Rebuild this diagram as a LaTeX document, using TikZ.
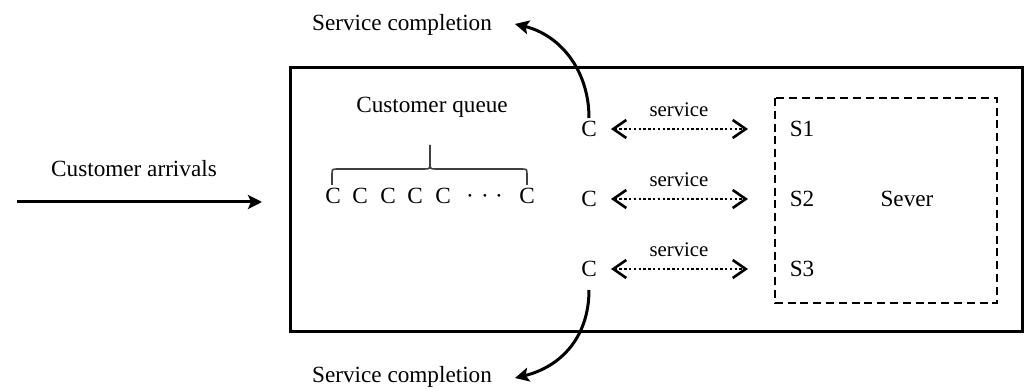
\documentclass[tikz,border=0pt]{standalone}
\usepackage{fontspec}
\setmainfont{Liberation Serif}
\usetikzlibrary{arrows.meta}
\begin{document}
\begin{tikzpicture}[x=0.5pt,y=-0.5pt,
  lbl/.style={inner sep=0pt, anchor=base, font=\fontsize{11.6}{13}\selectfont},
  small/.style={inner sep=0pt, anchor=base, font=\fontsize{10.4}{12}\selectfont},
  flow/.style={line width=1.5pt, -{Stealth[length=7pt,width=7pt,inset=1.5pt]}},
  svc/.style={line width=1.1pt, dash pattern=on 1.2pt off 1.2pt,
    {Straight Barb[length=6.5pt,width=9pt,line width=1.3pt]}-{Straight Barb[length=6.5pt,width=9pt,line width=1.3pt]}},
  mainbox/.style={line width=1.5pt},
  serverbox/.style={line width=1.2pt, dash pattern=on 4pt off 2.4pt},
  bracestyle/.style={line width=0.8pt, black!75}]
\useasboundingbox (0,0) rectangle (1025,389);

% boxes
\draw[mainbox] (290,68) rectangle (1022,332);
\draw[serverbox] (775,98) rectangle (997,303);

% arrivals
\node[lbl] (arr) at (134,177) {Customer arrivals};
\coordinate (arrS) at (17,202);
\coordinate (arrE) at (262,202);
\draw[flow] (arrS) -- (arrE);

% queue
\node[lbl] (qlabel) at (432,113) {Customer queue};
\foreach \x [count=\i] in {333,360,388,415,443}
  \node[lbl] (q\i) at (\x,204) {C};
\node[lbl] (qd1) at (470,204) {·};
\node[lbl] (qd2) at (485,204) {·};
\node[lbl] (qd3) at (499,204) {·};
\node[lbl] (qn) at (527,204) {C};
\draw[bracestyle] (332,185) -- (332,175) .. controls (332,169) .. (338,169) -- (424,169)
  .. controls (430,169) .. (430,162) -- (430,145);
\draw[bracestyle] (430,162) .. controls (430,169) .. (436,169) -- (521,169)
  .. controls (527,169) .. (527,175) -- (527,185);

% customers in service and servers
\foreach \y [count=\i] in {137,207,277} {
  \node[lbl] (c\i) at (589,\y) {C};
  \node[lbl] (s\i) at (802,\y) {S\i};
  \node[small] (sv\i) at (679,\y-20) {service};
  \coordinate (a\i) at (611,\y-8);
  \coordinate (b\i) at (748,\y-8);
  \draw[svc] (a\i) -- (b\i);
}
\node[lbl] (sever) at (907,207) {Sever};

% service completions
\node[lbl] (sc1) at (402,31) {Service completion};
\node[lbl] (sc2) at (402,383) {Service completion};
\coordinate (t1) at (589,118);
\coordinate (e1) at (515,24);
\coordinate (t2) at (589,290);
\coordinate (e2) at (515,378);
\draw[flow] (t1) .. controls (589,70) and (560,35) .. (e1);
\draw[flow] (t2) .. controls (589,338) and (560,367) .. (e2);
\end{tikzpicture}
\end{document}
